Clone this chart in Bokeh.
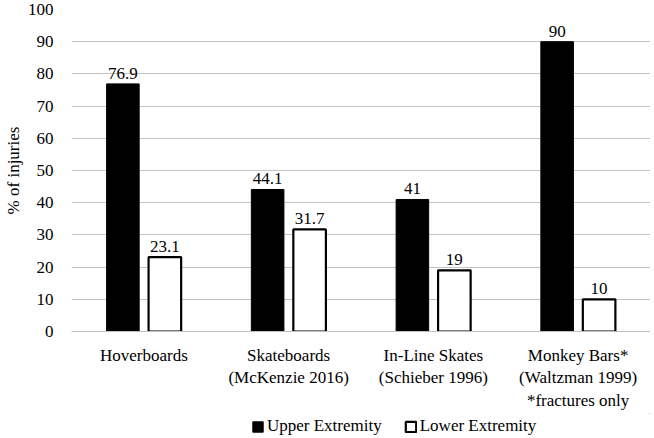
from bokeh.plotting import figure
from bokeh.layouts import column
from bokeh.models import ColumnDataSource, FactorRange, FixedTicker, Legend, LegendItem
from bokeh.transform import dodge
from bokeh.core.properties import value
from bokeh.embed import file_html
from bokeh.resources import INLINE

categories = ["Hoverboards", "Skateboards\n(McKenzie 2016)", "In-Line Skates\n(Schieber 1996)",
              "Monkey Bars*\n(Waltzman 1999)\n*fractures only"]
upper = [76.9, 44.1, 41, 90]
lower = [23.1, 31.7, 19, 10]
upper_labels = ["76.9", "44.1", "41", "90"]
lower_labels = ["23.1", "31.7", "19", "10"]
series_names = ["Upper Extremity", "Lower Extremity"]
y_ticks = list(range(0, 101, 10))

FONT = "Liberation Serif"

src = ColumnDataSource(dict(cat=categories, upper=upper, lower=lower,
                            ul=upper_labels, ll=lower_labels))

p = figure(x_range=FactorRange(factors=categories, range_padding=0), y_range=(0, 100),
           width=650, height=413, output_backend="svg", toolbar_location=None,
           min_border_left=64, min_border_right=0, min_border_top=9, min_border_bottom=80)
p.outline_line_color = None
p.background_fill_color = "white"

r1 = p.vbar(x=dodge("cat", -0.145, range=p.x_range), top="upper", width=0.225, source=src,
            fill_color="black", line_color="black")
r2 = p.vbar(x=dodge("cat", 0.145, range=p.x_range), top="lower", width=0.225, source=src,
            fill_color="white", line_color="black", line_width=2.2)

p.text(x=dodge("cat", -0.145, range=p.x_range), y="upper", text="ul", source=src,
       text_align="center", text_baseline="bottom", y_offset=-5,
       text_font=value(FONT), text_font_size="17px", text_color="black")
p.text(x=dodge("cat", 0.145, range=p.x_range), y="lower", text="ll", source=src,
       text_align="center", text_baseline="bottom", y_offset=-5,
       text_font=value(FONT), text_font_size="17px", text_color="black")

p.yaxis.ticker = FixedTicker(ticks=y_ticks)
p.yaxis.axis_line_color = None
p.yaxis.major_tick_line_color = None
p.yaxis.minor_tick_line_color = None
p.yaxis.major_label_standoff = 12
p.yaxis.axis_label = "% of injuries"
p.yaxis.axis_label_text_font = FONT
p.yaxis.axis_label_text_font_size = "17px"
p.yaxis.axis_label_text_font_style = "normal"
p.yaxis.axis_label_text_color = "black"
p.yaxis.axis_label_standoff = 2
p.yaxis.major_label_text_font = FONT
p.yaxis.major_label_text_font_size = "17px"
p.yaxis.major_label_text_color = "black"

p.xaxis.axis_line_color = "#bfbfbf"
p.xaxis.axis_line_width = 1
p.xaxis.major_tick_line_color = None
p.xaxis.minor_tick_line_color = None
p.xaxis.major_label_standoff = 8
p.xaxis.major_label_text_font = FONT
p.xaxis.major_label_text_font_size = "17px"
p.xaxis.major_label_text_color = "black"

p.xgrid.grid_line_color = None
p.ygrid.grid_line_color = "#c4c4c4"
p.ygrid.grid_line_width = 1

# legend strip below the chart (legend renderers sit outside the strip's visible range)
lg = figure(width=650, height=24, x_range=(0, 1), y_range=(0, 1), output_backend="svg",
            toolbar_location=None, min_border=0, min_border_left=0, min_border_right=0,
            min_border_top=0, min_border_bottom=0)
lg.axis.visible = False
lg.grid.grid_line_color = None
lg.outline_line_color = None
d1 = lg.vbar(x=[5], top=[5], bottom=[4], width=0.1, fill_color="black", line_color="black")
d2 = lg.vbar(x=[5], top=[5], bottom=[4], width=0.1, fill_color="white", line_color="black",
             line_width=2.2)
legend = Legend(items=[LegendItem(label=series_names[0], renderers=[d1]),
                       LegendItem(label=series_names[1], renderers=[d2])],
                orientation="horizontal", location=(180, 1),
                label_text_font=FONT, label_text_font_size="17px", label_text_color="black",
                glyph_width=13, glyph_height=13, spacing=22, label_standoff=3,
                border_line_color=None, background_fill_alpha=0, padding=2, margin=0)
lg.add_layout(legend, "center")

layout = column(p, lg, spacing=0)
open("out.html", "w").write(file_html(layout, INLINE))
